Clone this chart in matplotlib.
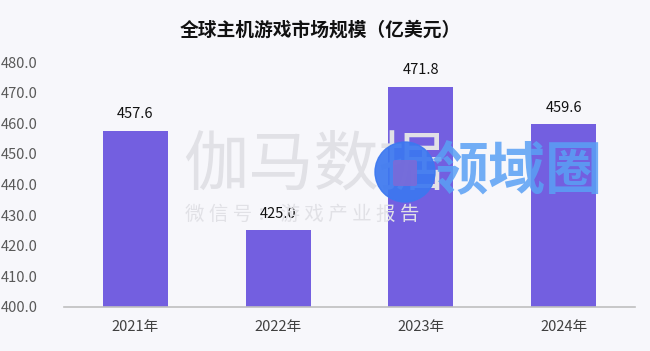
import matplotlib
matplotlib.use("Agg")
import matplotlib.pyplot as plt
from matplotlib.patches import Circle, FancyBboxPatch

plt.rcParams['font.family'] = ['Noto Sans CJK SC', 'DejaVu Sans']

years = ['2021年', '2022年', '2023年', '2024年']
values = [457.6, 425.0, 471.8, 459.6]
yticks = [400, 410, 420, 430, 440, 450, 460, 470, 480]

bg = '#F7F7FB'
fig = plt.figure(figsize=(6.5, 3.51), dpi=100, facecolor=bg)
ax = fig.add_axes([64 / 650, 1 - 307 / 351, 571 / 650, 245 / 351])
ax.set_facecolor(bg)

x = range(len(years))
ax.bar(x, values, width=0.455, color='#735FE0', zorder=3)
for i, v in zip(x, values):
    ax.annotate(f'{v:.1f}', (i, v), xytext=(0, 7), textcoords='offset points',
                ha='center', va='bottom', fontsize=10.5, color='#111111', zorder=5)

ax.set_xlim(-0.5, 3.5)
ax.set_ylim(400, 480)
ax.set_yticks(yticks)
ax.set_yticklabels([f'{t:.1f}' for t in yticks])
ax.set_xticks(list(x))
ax.set_xticklabels(years)
ax.tick_params(axis='y', length=0, pad=19, labelsize=10.5, labelcolor='#595959')
ax.tick_params(axis='x', length=0, pad=9, labelsize=10.5, labelcolor='#404040')
for s in ['top', 'right', 'left']:
    ax.spines[s].set_visible(False)
ax.spines['bottom'].set_color('#BFBFBF')
ax.spines['bottom'].set_linewidth(1.2)
ax.spines['bottom'].set_zorder(4)

fig.text(0.493, 1 - 30 / 351, '全球主机游戏市场规模（亿美元）', ha='center', va='center',
         fontsize=13.5, fontweight='bold', color='#111111')

# watermarks
fig.text(183 / 650, 1 - 166 / 351, '伽马数据', ha='left', va='center', fontsize=47,
         fontweight='light', color='#E1E1E6', zorder=1)
fig.text(185 / 650, 1 - 214 / 351, '微 信 号 ： 游 戏 产 业 报 告', ha='left', va='center',
         fontsize=14, fontweight='light', color='#E1E1E6', zorder=1)
fig.add_artist(Circle((405, 351 - 172), 30, transform=None, color='#3C78F0',
                      alpha=0.92, zorder=6))
fig.add_artist(FancyBboxPatch((395, 351 - 184), 20, 22, boxstyle='round,pad=2',
                              transform=None, facecolor='#7A6BD8', edgecolor='none',
                              alpha=0.9, zorder=7))
fig.text(432 / 650, 1 - 172 / 351, '领域圈', ha='left', va='center', fontsize=41,
         fontweight='bold', color='#5AA0F5', alpha=0.85, zorder=6)

fig.savefig('out.png', dpi=100, facecolor=bg)
